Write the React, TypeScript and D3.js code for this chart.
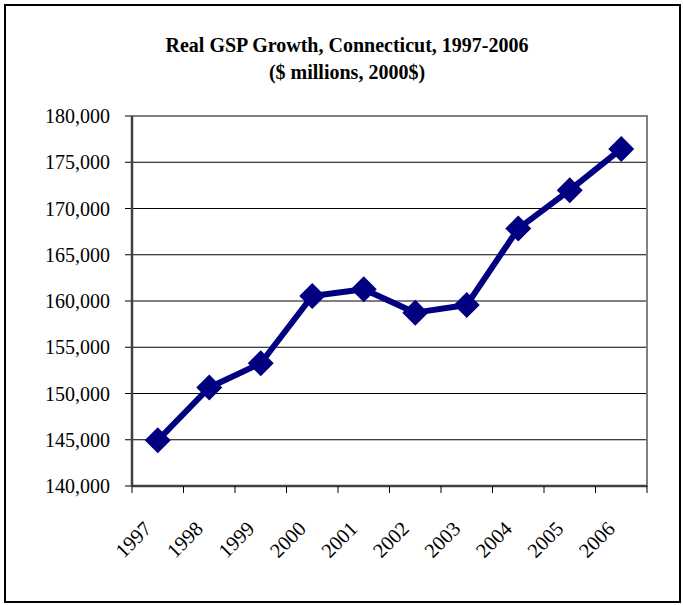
import React from "react";
import * as d3 from "d3";

const years = ["1997", "1998", "1999", "2000", "2001", "2002", "2003", "2004", "2005", "2006"];
const gsp = [144940, 150650, 153270, 160540, 161260, 158740, 159570, 167830, 171980, 176440];
const yTicks = [140000, 145000, 150000, 155000, 160000, 165000, 170000, 175000, 180000];
const titleLines = ["Real GSP Growth, Connecticut, 1997-2006", "($ millions, 2000$)"];

const W = 683;
const H = 605;
const plot = { left: 132, top: 116, right: 647, bottom: 486 };
const FONT = "'Liberation Serif', 'Times New Roman', serif";

export default function App() {
  const x = d3.scaleBand<string>().domain(years).range([plot.left, plot.right]).padding(0);
  const y = d3.scaleLinear().domain([140000, 180000]).range([plot.bottom, plot.top]);
  const fmt = d3.format(",");
  const line = d3
    .line<number>()
    .x((_, i) => (x(years[i]) as number) + x.bandwidth() / 2)
    .y((d) => y(d));
  const r = 13;
  const tickPositions = d3.range(years.length + 1).map((i) => plot.left + i * x.bandwidth());

  return (
    <svg
      width={W}
      height={H}
      style={{ position: "absolute", left: 0, top: 0, background: "#fff" }}
      fontFamily={FONT}
    >
      <rect x={0} y={0} width={W} height={H} fill="#fff" />
      <rect x={5} y={5} width={675} height={597} fill="none" stroke="#000" strokeWidth={2} />
      {titleLines.map((t, i) => (
        <text
          key={i}
          x={347}
          y={52 + i * 27}
          textAnchor="middle"
          fontWeight="bold"
          fontSize={20}
          fill="#000"
        >
          {t}
        </text>
      ))}
      {/* gridlines */}
      {yTicks.map((v) => (
        <line
          key={"g" + v}
          x1={plot.left - 7}
          x2={plot.right}
          y1={y(v)}
          y2={y(v)}
          stroke="#000"
          strokeWidth={1}
        />
      ))}
      {/* plot border */}
      <rect
        x={plot.left}
        y={plot.top}
        width={plot.right - plot.left}
        height={plot.bottom - plot.top}
        fill="none"
        stroke="#808080"
        strokeWidth={2}
      />
      {/* axes */}
      <line x1={plot.left} x2={plot.left} y1={plot.top} y2={plot.bottom} stroke="#404040" strokeWidth={2.5} />
      <line x1={plot.left} x2={plot.right} y1={plot.bottom} y2={plot.bottom} stroke="#404040" strokeWidth={2.5} />
      {tickPositions.map((tx, i) => (
        <line key={"t" + i} x1={tx} x2={tx} y1={plot.bottom} y2={plot.bottom + 7} stroke="#000" strokeWidth={1} />
      ))}
      {yTicks.map((v) => (
        <text
          key={"yl" + v}
          x={110}
          y={y(v)}
          textAnchor="end"
          dominantBaseline="central"
          fontSize={20}
          fill="#000"
        >
          {fmt(v)}
        </text>
      ))}
      {years.map((yr) => {
        const cx = (x(yr) as number) + x.bandwidth() / 2 - 10;
        const cy = 525;
        return (
          <text
            key={"xl" + yr}
            x={cx}
            y={cy}
            textAnchor="end"
            dominantBaseline="central"
            fontSize={20.5}
            fill="#000"
            transform={`rotate(-45 ${cx} ${cy})`}
          >
            {yr}
          </text>
        );
      })}
      <path d={line(gsp) as string} fill="none" stroke="#000080" strokeWidth={6} strokeLinejoin="round" />
      {gsp.map((v, i) => {
        const cx = (x(years[i]) as number) + x.bandwidth() / 2;
        const cy = y(v);
        return (
          <path
            key={"m" + i}
            d={`M${cx},${cy - r}L${cx + r},${cy}L${cx},${cy + r}L${cx - r},${cy}Z`}
            fill="#000080"
          />
        );
      })}
    </svg>
  );
}
